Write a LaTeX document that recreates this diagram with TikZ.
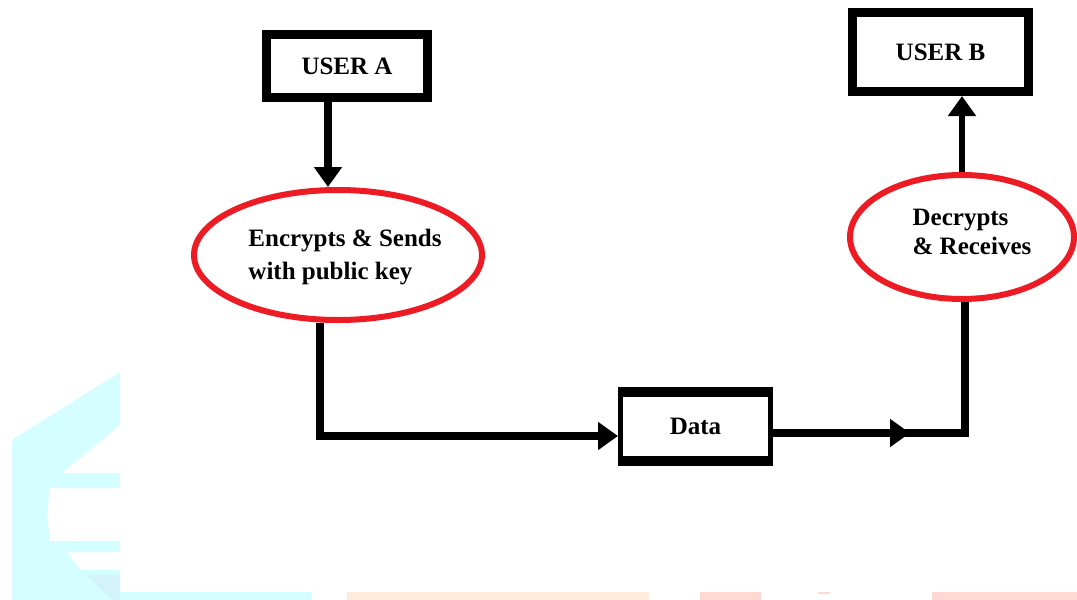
\documentclass[tikz,border=0pt]{standalone}
\usepackage{fontspec}
\setmainfont{Liberation Serif}
\usetikzlibrary{arrows.meta,shapes.geometric}
\definecolor{wmcyan}{HTML}{D4FEFF}
\definecolor{wmblue}{HTML}{D3F2FC}
\definecolor{wmpeach}{HTML}{FFEBDB}
\definecolor{wmpink}{HTML}{FFD8D3}
\definecolor{ellred}{HTML}{ED1C24}
\tikzset{
  boxnode/.style={draw=black, line width=9pt, rectangle, inner sep=0pt,
    font=\fontsize{25}{30}\selectfont\bfseries},
  ellnode/.style={draw=ellred, line width=6pt, ellipse, inner sep=0pt},
  lbl/.style={font=\fontsize{25}{33}\selectfont\bfseries, align=left, inner sep=0pt},
  conn/.style={draw=black, line width=8pt},
  thinconn/.style={draw=black, line width=6pt},
  tip/.style={-{Triangle[length=20pt,width=27pt]}}
}
\begin{document}
\begin{tikzpicture}[x=1pt,y=-1pt]
\useasboundingbox (0,0) rectangle (1077,600);
% watermark
\fill[wmcyan] (12,440) -- (120,372) -- (120,425) -- (62,473) -- (120,473) -- (120,488)
  -- (50,488) -- (47,515) -- (50,541) -- (120,541) -- (120,552) -- (67,552) -- (80,570)
  -- (120,570) -- (120,592) -- (311,592) -- (311,600) -- (12,600) -- cycle;
\fill[wmblue] (86,575) -- (120,575) -- (120,600) -- (112,600) -- cycle;
\fill[wmpeach] (347,592) rectangle (649,600);
\fill[wmpink] (700,592) rectangle (761,600);
\fill[wmpink] (818,592) rectangle (830,594);
\fill[wmpink] (932,592) rectangle (1077,600);
% nodes
\node[boxnode, minimum width=161pt, minimum height=63pt] (userA) at (347,66) {USER A};
\node[boxnode, minimum width=176pt, minimum height=79pt] (userB) at (940.5,52) {USER B};
\node[boxnode, line width=5pt, minimum width=150pt, minimum height=74pt] (data) at (695.5,426) {Data};
\draw[line width=10pt] ([yshift=-5pt]data.north west) -- ([yshift=-5pt]data.north east);
\draw[line width=10pt] ([yshift=5pt]data.south west) -- ([yshift=5pt]data.south east);
\node[ellnode, minimum width=288pt, minimum height=130pt] (encA) at (338,255) {};
\node[lbl] (encAt) at (345,257) {Encrypts \& Sends\\with public key};
\node[ellnode, minimum width=224pt, minimum height=124pt] (decB) at (962,237) {};
\node[lbl, font=\fontsize{25}{29}\selectfont\bfseries] (decBt) at (972,232) {Decrypts\\\& Receives};
% connectors
\draw[conn, tip] ([xshift=-19pt]userA.south) -- ([xshift=-10pt]encA.north);
\draw[conn, tip] ([xshift=-18pt]encA.south) |- ([yshift=-10pt]data.west);
\coordinate (m2) at (910,433);
\draw[conn] ([yshift=-7pt]data.east) -| ([xshift=3pt]decB.south);
\draw[conn, tip] ([yshift=-7pt]data.east) -- (m2);
\draw[thinconn, tip] (decB.north) -- (decB.north |- userB.south);
\end{tikzpicture}
\end{document}
